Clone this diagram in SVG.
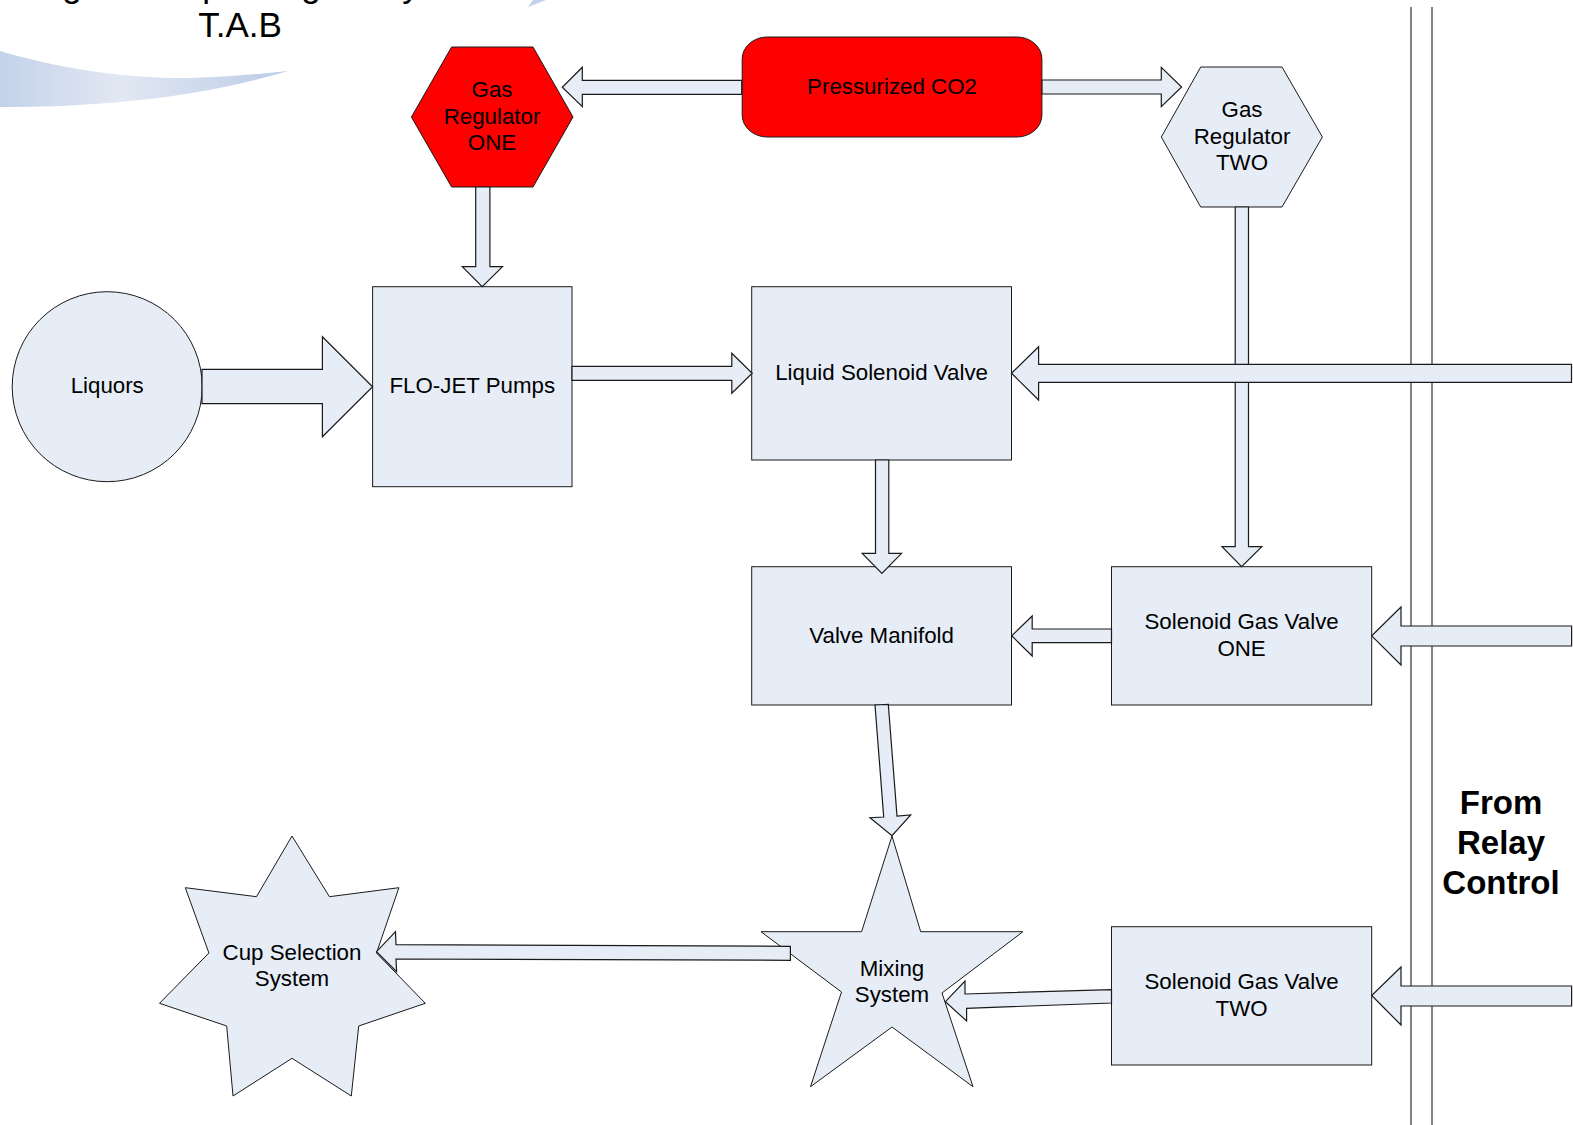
<svg xmlns="http://www.w3.org/2000/svg" width="1573" height="1125" viewBox="0 0 1573 1125">
<style>
text{font-family:"Liberation Sans",Arial,sans-serif;fill:#000;text-anchor:middle;font-size:22.3px}
.s{fill:#E6EDF7;stroke:#1a1a1a;stroke-width:1}
.r{fill:#FF0000;stroke:#1a1a1a;stroke-width:1}
.bus{fill:none;stroke:#5a5a5a;stroke-width:1.5}
.a{fill:#E6EDF7;stroke:#1a1a1a;stroke-width:1.2}
.t{font-size:35px}
.b{font-size:33px;font-weight:bold}
</style>
<defs>
<linearGradient id="sw" gradientUnits="userSpaceOnUse" x1="0" y1="0" x2="288" y2="0">
<stop offset="0" stop-color="#C3D2E9"/><stop offset="0.42" stop-color="#E2E8F3"/><stop offset="1" stop-color="#BACBE6"/>
</linearGradient>
</defs>
<g id="decor">
<path d="M0 51C50 66 120 79 190 78C225 77 260 74 288 71C240 85 190 95 130 101C80 106 40 107 0 107Z" fill="url(#sw)"/>
<path d="M528 7L533 0L546 0Z" fill="#C3D2EA"/>
</g>
<g id="title">
<text class="t" y="-3.5"><tspan x="72">g</tspan><tspan x="212">p</tspan><tspan x="311">g</tspan><tspan x="411">y</tspan></text>
<text class="t" x="240" y="37">T.A.B</text>
</g>
<g id="relay-bus">
<line class="bus" x1="1411" y1="7" x2="1411" y2="1125"/>
<line class="bus" x1="1432" y1="7" x2="1432" y2="1125"/>
<text class="b" x="1501" y="814">From</text>
<text class="b" x="1501" y="854">Relay</text>
<text class="b" x="1501" y="894">Control</text>
</g>
<g id="gas-regulator-one">
<polygon class="r" points="411.4,117 451.6,47 533,47 573,117 533,187 451.6,187"/>
<text x="492" y="97">Gas</text><text x="492" y="123.5">Regulator</text><text x="492" y="150">ONE</text>
</g>
<g id="pressurized-co2">
<rect class="r" x="742.2" y="37" width="299.7" height="100" rx="25" ry="22"/>
<text x="892" y="94">Pressurized CO2</text>
</g>
<g id="gas-regulator-two">
<polygon class="s" points="1161.3,137 1200.7,67 1282,67 1322.4,137 1282,207 1200.7,207"/>
<text x="1242" y="117">Gas</text><text x="1242" y="143.5">Regulator</text><text x="1242" y="170">TWO</text>
</g>
<g id="liquors">
<circle class="s" cx="107.2" cy="386.7" r="95"/>
<text x="107.2" y="393">Liquors</text>
</g>
<g id="flo-jet-pumps">
<rect class="s" x="372.6" y="286.7" width="199.4" height="200"/>
<text x="472.3" y="393">FLO-JET Pumps</text>
</g>
<g id="liquid-solenoid-valve">
<rect class="s" x="751.7" y="286.7" width="259.8" height="173.3"/>
<text x="881.6" y="380">Liquid Solenoid Valve</text>
</g>
<g id="valve-manifold">
<rect class="s" x="751.7" y="566.7" width="259.8" height="138.3"/>
<text x="881.6" y="643">Valve Manifold</text>
</g>
<g id="solenoid-gas-valve-one">
<rect class="s" x="1111.5" y="566.7" width="260.2" height="138.3"/>
<text x="1241.6" y="629">Solenoid Gas Valve</text><text x="1241.6" y="656">ONE</text>
</g>
<g id="solenoid-gas-valve-two">
<rect class="s" x="1111.5" y="926.7" width="260.2" height="138.3"/>
<text x="1241.6" y="989">Solenoid Gas Valve</text><text x="1241.6" y="1015.5">TWO</text>
</g>
<g id="mixing-system">
<polygon class="s" points="892,836 920.7,931.7 1022.9,931.7 942,993 973,1086.7 892,1027 810.5,1086.7 841.5,992 761,931.7 861.6,931.7"/>
<text x="892" y="976">Mixing</text><text x="892" y="1002">System</text>
</g>
<g id="cup-selection-system">
<polygon class="s" points="292,836 329.4,896.7 398.9,887.7 376.5,953 425.3,1003.3 358.7,1026 351.3,1096 292,1058.3 233,1096 226.7,1026 159.5,1003.3 208.9,953 185.3,887.7 256.5,896.7"/>
<text x="292" y="959.5">Cup Selection</text><text x="292" y="986">System</text>
</g>
<g id="connectors">
<polygon class="a" points="741.7,80.3 582.3,80.3 582.3,67.3 562.3,87.3 582.3,106.7 582.3,94.3 741.7,94.3"/>
<polygon class="a" points="1042,80 1161.3,80 1161.3,67.3 1181.6,87 1161.3,106.7 1161.3,94 1042,94"/>
<polygon class="a" points="475.7,187 475.7,266.7 462.3,266.7 482.2,286.7 502.5,266.7 489.9,266.7 489.9,187"/>
<polygon class="a" points="202,369.3 322.4,369.3 322.4,336.7 372.6,386.7 322.4,436.7 322.4,403.7 202,403.7"/>
<polygon class="a" points="572,366.3 731.8,366.3 731.8,353.3 752.2,373.3 731.8,393.3 731.8,380.3 572,380.3"/>
<polygon class="a" points="1235.2,207 1235.2,546.7 1222,546.7 1241.6,566.7 1261.8,546.7 1248.5,546.7 1248.5,207"/>
<polygon class="a" points="1571.5,364.3 1038.6,364.3 1038.6,346.7 1011.5,373.3 1038.6,400 1038.6,382.3 1571.5,382.3"/>
<polygon class="a" points="875.5,460 875.5,553.3 862.2,553.3 881.9,573.3 901.5,553.3 888.8,553.3 888.8,460"/>
<polygon class="a" points="1571.6,626 1401,626 1401,607 1371.7,635.8 1401,665 1401,646 1571.6,646"/>
<polygon class="a" points="1571.6,986 1401,986 1401,967 1371.7,995.5 1401,1025 1401,1006 1571.6,1006"/>
<polygon class="a" points="1111.5,629 1032.2,629 1032.2,616 1011.7,635.8 1032.2,656 1032.2,642.7 1111.5,642.7"/>
<polygon class="a" points="875,705 883.7,817 870,817.7 892,835.7 910.7,815 897,816 888.3,704.3"/>
<polygon class="a" points="790.4,946.3 396,944.7 395.5,931.7 376.5,951.7 396.6,971.7 396,959 790.4,960.3"/>
<polygon class="a" points="1111.5,989.6 965,994 965,981 945.4,1001.7 966.6,1021 966.6,1008.3 1111.5,1003"/>
</g>
</svg>
